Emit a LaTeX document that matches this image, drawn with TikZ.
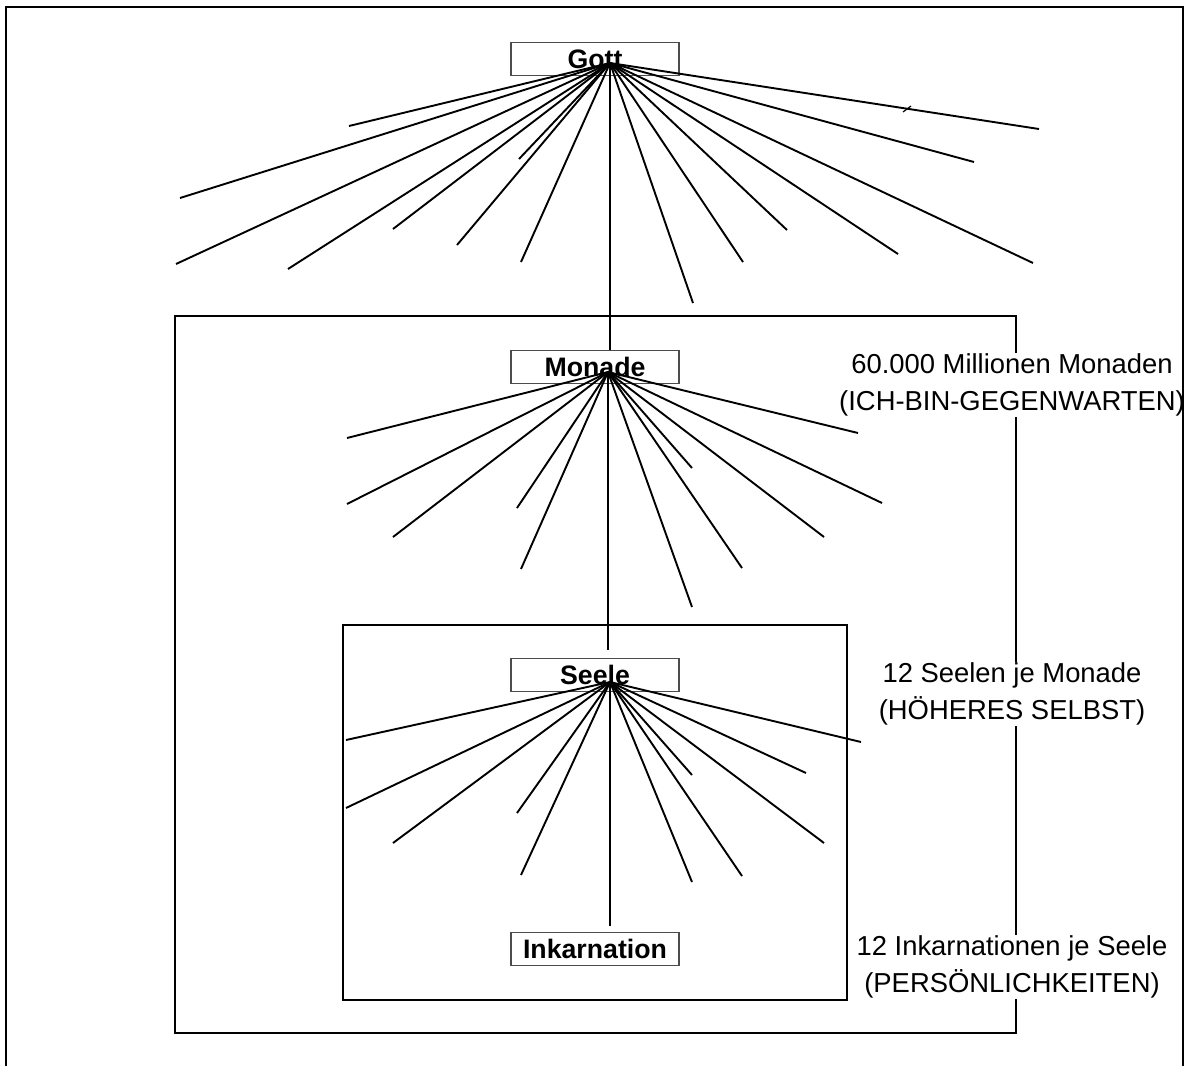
\documentclass[tikz,border=0pt]{standalone}
\usepackage{fontspec}
\setmainfont{Liberation Sans}
\usetikzlibrary{positioning}

\begin{document}
\begin{tikzpicture}[x=1pt,y=-1pt]
		\tikzset{level/.style={draw=black!70,line width=1.2pt,fill=white,minimum width=168pt,minimum height=33pt,inner sep=0pt,font=\fontsize{26.7}{30}\selectfont\bfseries},
			ray/.style={line width=1.9pt},
			frame/.style={line width=1.3pt},
			note/.style={fill=white,align=center,inner sep=1pt,font=\fontsize{27.4}{37}\selectfont}}
		\useasboundingbox (0,0) rectangle (1187,1066);
		\draw[frame] (175,316) rectangle (1016,1033);
		\draw[frame] (343,625) rectangle (847,1000);
		\node[level] (gott) at (595,59) {Gott};
		\node[level] (monade) at (595,367) {Monade};
		\node[level] (seele) at (595,675) {Seele};
		\node[level] (ink) at (595,949) {Inkarnation};
		\coordinate (ghub) at (610,63);
		\coordinate (mhub) at (608,372);
		\coordinate (shub) at (610,682);
		\foreach \x/\y [count=\i] in {349/126,180/198,176/264,288/269,393/229,519/159,457/245,521/262,693/303,743/262,787/230,898/254,1033/263,974/162,1039/129}
			\coordinate (g\i) at (\x,\y);
		\foreach \x/\y [count=\i] in {347/438,347/504,393/537,517/508,521/569,692/468,692/607,742/568,824/537,882/503,858/433}
			\coordinate (m\i) at (\x,\y);
		\foreach \x/\y [count=\i] in {346/740,346/808,393/843,517/813,521/875,692/775,692/882,742/876,824/843,806/773,861/742}
			\coordinate (s\i) at (\x,\y);
		\foreach \i in {1,...,15}
			\draw[ray] (ghub) -- (g\i);
		\foreach \i in {1,...,11} {
			\draw[ray] (mhub) -- (m\i);
			\draw[ray] (shub) -- (s\i);
		}
		\draw[ray] (ghub) -- (ghub |- monade.north);
		\draw[ray] (mhub) -- (mhub |- 0,650);
		\draw[ray] (shub) -- (shub |- 0,926);
		\coordinate (tick) at (907,109);
		\draw[line width=1.2pt] ([shift={(-4,3)}]tick) -- ([shift={(4,-3)}]tick);
		\node[note] (mlabel) at (1012,385) {60.000 Millionen Monaden\\(ICH-BIN-GEGENWARTEN)};
		\node[note] (slabel) at (1012,694) {12 Seelen je Monade\\(HÖHERES SELBST)};
		\node[note] (ilabel) at (1012,967) {12 Inkarnationen je Seele\\(PERSÖNLICHKEITEN)};
		\draw[frame] (6,1066) |- (1183,7) -- (1183,1066);
\end{tikzpicture}
\end{document}
